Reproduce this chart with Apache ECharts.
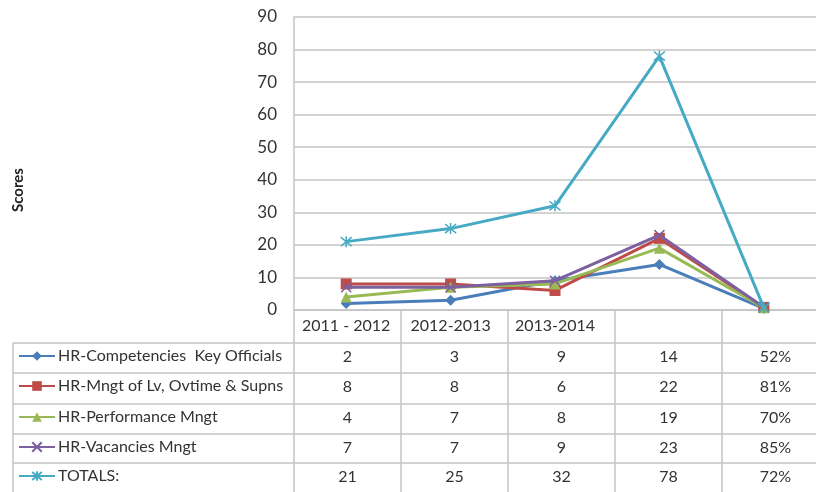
<!DOCTYPE html>
<html>
<head>
<meta charset="utf-8">
<script src="https://cdn.jsdelivr.net/npm/echarts@6/dist/echarts.min.js"></script>
<style>html,body{margin:0;padding:0;background:#fff}#c{width:816px;height:492px}</style>
</head>
<body>
<div id="c"></div>
<script>
const categories = ['2011 - 2012', '2012-2013', '2013-2014', '', ''];
const seriesNames = ['HR-Competencies  Key Officials', 'HR-Mngt of Lv, Ovtime & Supns', 'HR-Performance Mngt', 'HR-Vacancies Mngt', 'TOTALS:'];
const competencies = [2, 3, 9, 14, 0.52];
const mngtLv = [8, 8, 6, 22, 0.81];
const performance = [4, 7, 8, 19, 0.70];
const vacancies = [7, 7, 9, 23, 0.85];
const totals = [21, 25, 32, 78, 0.72];
const yMin = 0, yMax = 90, yStep = 10;
const yTitle = 'Scores';

const allData = [competencies, mngtLv, performance, vacancies, totals];
const colors = ['#4a7ebb', '#be4b48', '#98b954', '#7d60a0', '#46aac5'];
const symbols = [
  'diamond',
  'rect',
  'triangle',
  'path://M0,0L10,10M10,0L0,10',
  'path://M0,0L10,10M10,0L0,10M5,-1L5,11'
];
const symbolSizes = [11, 11, 11, 10, 11];

const FONT = 'Lato, "Open Sans", sans-serif';
const TXT = '#333333';
const LINE = '#c4c4c4';

// layout
const gLeft = 294, gTop = 17, gWidth = 535, gBottomY = 310;
const colW = gWidth / categories.length;
const rowTops = [343, 373, 404, 434, 463];
const rowH = 30;

function fmt(v) { return v < 1 ? Math.round(v * 100) + '%' : String(v); }

const graphics = [];
function hline(x1, x2, y) { graphics.push({type: 'line', silent: true, shape: {x1, y1: y, x2, y2: y}, style: {stroke: LINE, lineWidth: 1.5}}); }
function vline(x, y1, y2) { graphics.push({type: 'line', silent: true, shape: {x1: x, y1, x2: x, y2}, style: {stroke: LINE, lineWidth: 1.5}}); }
rowTops.forEach(y => hline(13, gLeft + gWidth, y));
hline(13, gLeft + gWidth, rowTops[4] + rowH);
vline(13, rowTops[0], 492);
for (let i = 0; i <= categories.length; i++) vline(gLeft + colW * i, gBottomY, 492);

allData.forEach((arr, r) => {
  arr.forEach((v, c) => {
    graphics.push({
      type: 'text', silent: true,
      x: gLeft + colW * (c + 0.5), y: rowTops[r] + 14,
      style: {text: fmt(v), font: '16px ' + FONT, fill: TXT, align: 'center', verticalAlign: 'middle'}
    });
  });
});

graphics.push({
  type: 'text', silent: true, x: 18, y: 190, rotation: Math.PI / 2,
  style: {text: yTitle, font: 'bold 15px ' + FONT, fill: '#222', align: 'center', verticalAlign: 'middle'}
});

const legends = seriesNames.map((n, i) => ({
  data: [n], left: 18, top: rowTops[i] + 5, orient: 'horizontal', padding: 0,
  itemWidth: 36, itemHeight: 12, itemGap: 4, selectedMode: false,
  textStyle: {fontSize: 16, fontFamily: FONT, color: TXT, padding: [0, 0, 0, -2]}
}));

const series = seriesNames.map((n, i) => ({
  name: n, type: 'line', data: allData[i],
  symbol: symbols[i], symbolSize: symbolSizes[i],
  lineStyle: {width: 3, color: colors[i]},
  itemStyle: {color: colors[i], borderColor: colors[i], borderWidth: i >= 3 ? 1.5 : 0},
  z: 2 + i
}));

const chart = echarts.init(document.getElementById('c'), null, {renderer: 'canvas'});
chart.setOption({
  animation: false,
  backgroundColor: '#fff',
  grid: {left: gLeft, top: gTop, width: gWidth, height: gBottomY - gTop},
  xAxis: {
    type: 'category', data: categories, boundaryGap: true,
    axisLine: {lineStyle: {color: LINE, width: 1.5}},
    axisTick: {show: false},
    axisLabel: {interval: 0, margin: 8, fontSize: 16, fontFamily: FONT, color: TXT}
  },
  yAxis: {
    type: 'value', min: yMin, max: yMax, interval: yStep,
    axisLine: {show: true, lineStyle: {color: LINE, width: 1.5}},
    axisTick: {show: false},
    axisLabel: {margin: 17, fontSize: 17, fontFamily: FONT, color: TXT},
    splitLine: {lineStyle: {color: LINE, width: 1.5}}
  },
  legend: legends,
  series: series,
  graphic: graphics
});
</script>
</body>
</html>
